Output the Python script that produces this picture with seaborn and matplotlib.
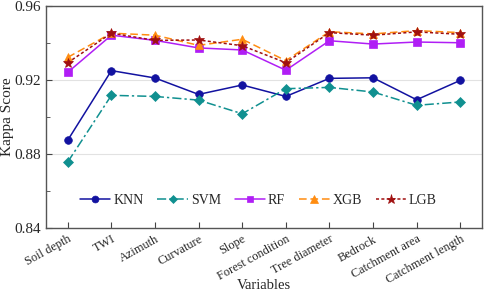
import pandas as pd
import seaborn as sns
import matplotlib.pyplot as plt
from matplotlib.ticker import MultipleLocator

# Kappa scores
variables = ['Soil depth', 'TWI', 'Azimuth', 'Curvature', 'Slope', 'Forest condition',
             'Tree diameter', 'Bedrock', 'Catchment area', 'Catchment length']
knn = [0.8875, 0.9252, 0.9212, 0.9123, 0.9174, 0.9112, 0.9210, 0.9213, 0.9094, 0.9199]
svm = [0.8757, 0.9118, 0.9112, 0.9092, 0.9018, 0.9154, 0.9161, 0.9136, 0.9064, 0.9082]
rf = [0.9243, 0.9444, 0.9416, 0.9375, 0.9364, 0.9254, 0.9414, 0.9396, 0.9407, 0.9403]
xgb = [0.9324, 0.9455, 0.9444, 0.9389, 0.9422, 0.9306, 0.9463, 0.9451, 0.9469, 0.9458]
lgb = [0.9295, 0.9455, 0.9416, 0.9418, 0.9387, 0.9295, 0.9458, 0.9444, 0.9462, 0.9449]

models = ['KNN', 'SVM', 'RF', 'XGB', 'LGB']
scores = [knn, svm, rf, xgb, lgb]
rows = []
for m, vals in zip(models, scores):
    for i, v in enumerate(vals):
        rows.append({'Model': m, 'pos': i, 'Kappa': v})
data = pd.DataFrame(rows)

colors = {'KNN': '#1212a0', 'SVM': '#109090', 'RF': '#b01ef5', 'XGB': '#ff8c10', 'LGB': '#a01010'}
markers = {'KNN': 'o', 'SVM': 'D', 'RF': 's', 'XGB': '^', 'LGB': '*'}
msizes = {'KNN': 5.5, 'SVM': 4.8, 'RF': 5.2, 'XGB': 6.2, 'LGB': 7.5}
dashes = {'KNN': '', 'SVM': (6, 2, 1.5, 2), 'RF': '', 'XGB': (5, 2.5), 'LGB': (2, 1.5)}

sns.set_style('ticks')
plt.rcParams['font.family'] = ['Liberation Serif', 'DejaVu Serif']

fig, ax = plt.subplots(figsize=(4.84, 2.92), dpi=100)
fig.subplots_adjust(left=0.095, right=0.996, top=0.978, bottom=0.22)

ax.grid(axis='y', color='#e2e2e2', linewidth=0.8, zorder=0)
for m in models:
    sub = data[data['Model'] == m]
    sns.lineplot(data=sub, x='pos', y='Kappa', ax=ax, color=colors[m], marker=markers[m],
                 markersize=msizes[m], markeredgewidth=0.5, markeredgecolor=colors[m],
                 linewidth=1.1, label=m, sort=False)
    if dashes[m]:
        ax.lines[-1].set_dashes(dashes[m])

ax.set_xlim(-0.5, len(variables) - 0.5)
ax.set_ylim(0.84, 0.96)
ax.set_xticks(range(len(variables)))
ax.set_xticklabels(variables, rotation=29, ha='right', va='top', rotation_mode='anchor', fontsize=8.8)
ax.yaxis.set_major_locator(MultipleLocator(0.04))
ax.yaxis.set_minor_locator(MultipleLocator(0.02))
ax.yaxis.set_major_formatter(plt.FuncFormatter(lambda v, p: f'{v:.2f}'))
ax.tick_params(axis='y', labelsize=11, direction='in', length=4, color='#444444')
ax.tick_params(axis='y', which='minor', direction='in', length=3, color='#444444')
ax.tick_params(axis='x', direction='in', length=4, color='#444444', pad=4)
for s in ax.spines.values():
    s.set_color('#555555')
    s.set_linewidth(1.0)
    s.set_visible(True)

ax.set_xlabel('Variables', fontsize=10.5)
ax.set_ylabel('Kappa Score', fontsize=11)
ax.xaxis.set_label_coords(0.5, -0.232)
ax.yaxis.set_label_coords(-0.074, 0.5)

ax.legend(loc='center', bbox_to_anchor=(0.487, 0.122), ncol=5, frameon=False, fontsize=10,
          handlelength=2.2, columnspacing=1.0, handletextpad=0.2, markerscale=0.9)

fig.savefig('out.png', dpi=100)
